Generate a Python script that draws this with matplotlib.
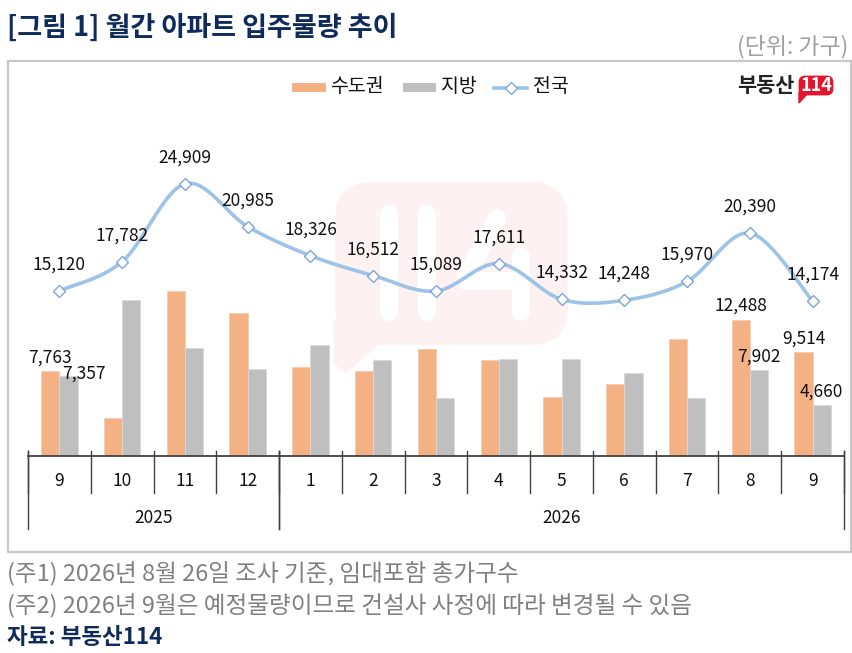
import numpy as np
import matplotlib
matplotlib.use("Agg")
import matplotlib.pyplot as plt
from matplotlib.patches import Rectangle, FancyBboxPatch, Polygon
from matplotlib.lines import Line2D
from matplotlib.transforms import blended_transform_factory

plt.rcParams['font.family'] = ['Noto Sans CJK KR', 'DejaVu Sans']

# ---------------- data ----------------
months = ['9', '10', '11', '12', '1', '2', '3', '4', '5', '6', '7', '8', '9']
years = ['2025', '2026']
year_spans = [(0, 4), (4, 13)]
capital = [7763, 3480, 15060, 13055, 8180, 7770, 9810, 8760, 5430, 6630, 10660, 12488, 9514]
region = [7357, 14302, 9849, 7930, 10146, 8742, 5279, 8851, 8902, 7618, 5310, 7902, 4660]
total = [15120, 17782, 24909, 20985, 18326, 16512, 15089, 17611, 14332, 14248, 15970, 20390, 14174]
labeled_bars = [0, 11, 12]
series_names = ['수도권', '지방', '전국']

title = '[그림 1] 월간 아파트 입주물량 추이'
unit = '(단위: 가구)'
notes = ['(주1) 2026년 8월 26일 조사 기준, 임대포함 총가구수',
         '(주2) 2026년 9월은 예정물량이므로 건설사 사정에 따라 변경될 수 있음']
source = '자료: 부동산114'

C_CAP = '#F4B183'
C_REG = '#BFBFBF'
C_LINE = '#9DC3E6'
C_MK = '#7EA6DA'
NAVY = '#0F2B5B'

W, H = 853, 653
fig = plt.figure(figsize=(W / 100, H / 100), dpi=100)
fig.patch.set_facecolor('white')


def fx(x):
    return x / W


def fy(y):
    return 1 - y / H


# outer box
fig.patches.append(Rectangle((fx(8), fy(552)), fx(851) - fx(8), fy(61) - fy(552),
                             transform=fig.transFigure, fill=False,
                             edgecolor='#C8C8C8', lw=1.6, zorder=0))

# watermark (faint speech-bubble 114)
wm = '#FEF1F1'
fig.patches.append(FancyBboxPatch((fx(345), fy(335)), fx(558) - fx(345), fy(192) - fy(335),
                                  boxstyle='round,pad=0.0,rounding_size=0.03',
                                  transform=fig.transFigure, facecolor=wm,
                                  edgecolor=wm, lw=14, zorder=0.1, mutation_aspect=W / H))
fig.patches.append(Polygon([(fx(338), fy(320)), (fx(338), fy(362)), (fx(346), fy(368)),
                            (fx(380), fy(338)), (fx(338), fy(338))],
                           closed=True, transform=fig.transFigure, facecolor=wm,
                           edgecolor=wm, lw=6, zorder=0.1))
for (x0, y0, x1, y1) in [(389, 214, 389, 312), (427, 214, 427, 312), (521, 257, 521, 312),
                         (497, 218, 466, 276), (466, 281, 521, 281)]:
    fig.lines.append(Line2D([fx(x0), fx(x1)], [fy(y0), fy(y1)], transform=fig.transFigure,
                            color='white', lw=13, solid_capstyle='round', zorder=0.2))

# ---------------- axes ----------------
scale = 91.5  # units per pixel
ax = fig.add_axes([fx(28), fy(456), fx(844) - fx(28), fy(130) - fy(456)])
ax.set_zorder(2)
ax.set_xlim(-0.5, len(months) - 0.5)
ax.set_ylim(0, (456 - 130) * scale)
ax.axis('off')
ax.patch.set_alpha(0)

x = np.arange(len(months))
bw = 0.29
ax.bar(x - bw / 2, capital, bw, color=C_CAP, edgecolor='#F8CBAD', lw=0.6, zorder=2)
ax.bar(x + bw / 2, region, bw, color=C_REG, edgecolor='#D9D9D9', lw=0.6, zorder=2)

# smooth line (Catmull-Rom through data points)
pts = np.column_stack([x, np.array(total, dtype=float)])
P = np.vstack([pts[0], pts, pts[-1]])
curve = []
for i in range(1, len(P) - 2):
    p0, p1, p2, p3 = P[i - 1], P[i], P[i + 1], P[i + 2]
    for t in np.linspace(0, 1, 30, endpoint=False):
        t2, t3 = t * t, t * t * t
        curve.append(0.5 * ((2 * p1) + (-p0 + p2) * t + (2 * p0 - 5 * p1 + 4 * p2 - p3) * t2
                            + (-p0 + 3 * p1 - 3 * p2 + p3) * t3))
curve.append(pts[-1])
curve = np.array(curve)
ax.plot(curve[:, 0], curve[:, 1], color=C_LINE, lw=2.6, zorder=3, solid_capstyle='round')
ax.plot(x, total, ls='none', marker='D', ms=6.5, mfc='white', mec=C_MK, mew=1.0, zorder=4)

for xi, v in zip(x, total):
    ax.annotate(f'{v:,}', (xi, v), xytext=(0, 19), textcoords='offset points',
                ha='center', va='center', fontsize=12.5, color='#111111', zorder=5)

for i in labeled_bars:
    dx_c, dy_c = 0, 10
    dx_r, dy_r = 0, 9.5
    if i == 0:
        dx_r, dy_r = 11, 1.5
    ax.annotate(f'{capital[i]:,}', (x[i] - bw / 2, capital[i]), xytext=(dx_c, dy_c),
                textcoords='offset points', ha='center', va='center', fontsize=12.5,
                color='#111111', zorder=5)
    ax.annotate(f'{region[i]:,}', (x[i] + bw / 2, region[i]), xytext=(dx_r, dy_r),
                textcoords='offset points', ha='center', va='center', fontsize=12.5,
                color='#111111', zorder=5)

# category axis
tr = blended_transform_factory(ax.transData, fig.transFigure)
axc = '#404040'
fig.lines.append(Line2D([fx(28), fx(844)], [fy(456), fy(456)], transform=fig.transFigure,
                        color=axc, lw=1.3, zorder=5))
for b in np.arange(len(months) + 1) - 0.5:
    fig.lines.append(Line2D([b, b], [fy(451), fy(493)], transform=tr, color=axc, lw=1.0))
for (s, e) in year_spans:
    for b in (s - 0.5, e - 0.5):
        fig.lines.append(Line2D([b, b], [fy(451), fy(529)], transform=tr, color=axc, lw=1.0))
for xi, m in zip(x, months):
    fig.text(xi, fy(481), m, transform=tr, ha='center', va='center', fontsize=12.5, color='#111111')
for (s, e), yl in zip(year_spans, years):
    fig.text((s + e - 1) / 2, fy(518), yl, transform=tr, ha='center', va='center',
             fontsize=12.5, color='#111111')

# legend
fig.patches.append(Rectangle((fx(292), fy(92)), fx(34), fy(0) - fy(9), transform=fig.transFigure,
                             facecolor=C_CAP, edgecolor='none'))
fig.text(fx(330), fy(87), series_names[0], ha='left', va='center', fontsize=14, color='#111111')
fig.patches.append(Rectangle((fx(403), fy(92)), fx(33), fy(0) - fy(9), transform=fig.transFigure,
                             facecolor=C_REG, edgecolor='none'))
fig.text(fx(441), fy(87), series_names[1], ha='left', va='center', fontsize=14, color='#111111')
fig.lines.append(Line2D([fx(494), fx(527)], [fy(88), fy(88)], transform=fig.transFigure,
                        color=C_LINE, lw=2.6))
fig.lines.append(Line2D([fx(510.5)], [fy(88)], transform=fig.transFigure, ls='none', marker='D',
                        ms=6.5, mfc='white', mec=C_MK, mew=1.0))
fig.text(fx(533), fy(87), series_names[2], ha='left', va='center', fontsize=14, color='#111111')

# logo
fig.text(fx(795), fy(85), '부동산', ha='right', va='center', fontsize=15, fontweight='bold',
         color='#222222')
red = '#E5132B'
fig.patches.append(FancyBboxPatch((fx(800), fy(94)), fx(832) - fx(800), fy(77) - fy(94),
                                  boxstyle='round,pad=0.0,rounding_size=0.006',
                                  transform=fig.transFigure, facecolor=red, edgecolor=red,
                                  lw=2, mutation_aspect=W / H))
fig.patches.append(Polygon([(fx(799), fy(92)), (fx(799), fy(103)), (fx(808), fy(93))],
                           closed=True, transform=fig.transFigure, facecolor=red, edgecolor=red))
fig.text(fx(816), fy(85.5), '114', ha='center', va='center', fontsize=13, fontweight='bold',
         color='white')

# titles & notes
fig.text(fx(7), fy(28), title, ha='left', va='center', fontsize=19.5, fontweight='bold', color=NAVY)
fig.text(fx(848), fy(47), unit, ha='right', va='center', fontsize=16.5, color='#A0A0A0')
fig.text(fx(7), fy(573), notes[0], ha='left', va='center', fontsize=17, color='#808080')
fig.text(fx(7), fy(606), notes[1], ha='left', va='center', fontsize=17, color='#808080')
fig.text(fx(7), fy(637), source, ha='left', va='center', fontsize=16.2, fontweight='bold', color=NAVY)

fig.savefig('out.png', dpi=100)
